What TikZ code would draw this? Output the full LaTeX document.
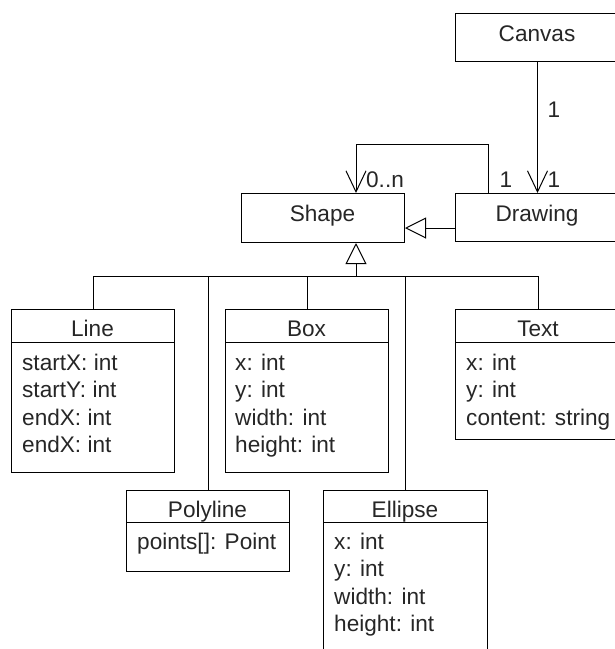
\documentclass[tikz,border=0pt]{standalone}
\usepackage{fontspec}
\setmainfont{Liberation Sans}
\usetikzlibrary{arrows.meta}
\begin{document}
\begin{tikzpicture}[x=1pt,y=-1pt,
  every node/.style={font=\fontsize{22.6}{26}\selectfont, text=black!85},
  boxn/.style={draw, line width=1pt, rectangle, inner sep=0pt, anchor=north west, minimum width=163pt},
  lbl/.style={inner sep=0pt, anchor=base},
  att/.style={inner sep=0pt, anchor=base west},
  conn/.style={line width=1pt},
  barb/.style={conn, -{Straight Barb[length=21pt,width=20pt,line width=1pt]}},
  inh/.style={conn, -{Triangle[open,length=21pt,width=21pt,line width=1pt]}}
]
\useasboundingbox (0,0) rectangle (615,649);
\clip (0,0) rectangle (615,649);

% top boxes
\node[boxn, minimum width=164pt, minimum height=48pt] (canvas) at (455,13) {};
\node[lbl] (canvasT) at (537,41) {Canvas};
\node[boxn, minimum width=164pt, minimum height=48pt] (drawing) at (455,193) {};
\node[lbl] (drawingT) at (537,221) {Drawing};
\node[boxn, minimum height=49pt] (shape) at (241,193) {};
\node[lbl] (shapeT) at (322.5,221) {Shape};

% Line
\node[boxn, minimum height=33pt] (line) at (11,309) {};
\node[boxn, minimum height=130pt] (lineB) at (11,342) {};
\node[lbl] (lineT) at (92.5,336) {Line};
\node[att] (l1) at (22,370) {startX: int};
\node[att] (l2) at (22,397.5) {startY: int};
\node[att] (l3) at (22,425) {endX: int};
\node[att] (l4) at (22,452.5) {endX: int};

% Box
\node[boxn, minimum height=33pt] (box) at (225,309) {};
\node[boxn, minimum height=130pt] (boxB) at (225,342) {};
\node[lbl] (boxT) at (306.5,336) {Box};
\node[att] (b1) at (235,370) {x: int};
\node[att] (b2) at (235,397.5) {y: int};
\node[att] (b3) at (235,425) {width: int};
\node[att] (b4) at (235,452.5) {height: int};

% Text
\node[boxn, minimum width=166pt, minimum height=33pt] (text) at (455,309) {};
\node[boxn, minimum width=166pt, minimum height=97pt] (textB) at (455,342) {};
\node[lbl] (textT) at (538,336) {Text};
\node[att] (t1) at (466,370) {x: int};
\node[att] (t2) at (466,397.5) {y: int};
\node[att] (t3) at (466,425) {content: string};

% Polyline
\node[boxn, minimum height=32pt] (polyline) at (126,490) {};
\node[boxn, minimum height=49pt] (polylineB) at (126,522) {};
\node[lbl] (polylineT) at (207.5,517) {Polyline};
\node[att] (p1) at (137,549) {points[]: Point};

% Ellipse
\node[boxn, minimum width=164pt, minimum height=32pt] (ellipse) at (323,490) {};
\node[boxn, minimum width=164pt, minimum height=150pt] (ellipseB) at (323,522) {};
\node[lbl] (ellipseT) at (405,517) {Ellipse};
\node[att] (e1) at (334,549) {x: int};
\node[att] (e2) at (334,576.5) {y: int};
\node[att] (e3) at (334,604) {width: int};
\node[att] (e4) at (334,631.5) {height: int};

% Canvas -> Drawing
\draw[barb] (canvas.south) -- (drawing.north);
\node[lbl] (m1) at (554,117) {1};
\node[lbl] (m2) at (554,187) {1};

% Drawing -> Shape (association loop)
\coordinate (loopA) at (488,144);
\coordinate (loopB) at (356,144);
\draw[barb] (drawing.north -| loopA) -- (loopA) -- (loopB) -- (shape.north -| loopB);
\node[lbl] (m3) at (385,187) {0..n};
\node[lbl] (m4) at (506,187) {1};

% Drawing inherits Shape
\coordinate (inhY) at (430,228);
\draw[inh] (drawing.west |- inhY) -- (shape.east |- inhY);

% generalization tree
\coordinate (bus) at (356,276);
\draw[inh] (bus) -- (shape.south -| bus);
\draw[conn] (line.north) -- (line.north |- bus) -- (text.north |- bus) -- (text.north);
\draw[conn] (polyline.north) -- (polyline.north |- bus);
\draw[conn] (box.north) -- (box.north |- bus);
\draw[conn] (ellipse.north) -- (ellipse.north |- bus);
\end{tikzpicture}
\end{document}
